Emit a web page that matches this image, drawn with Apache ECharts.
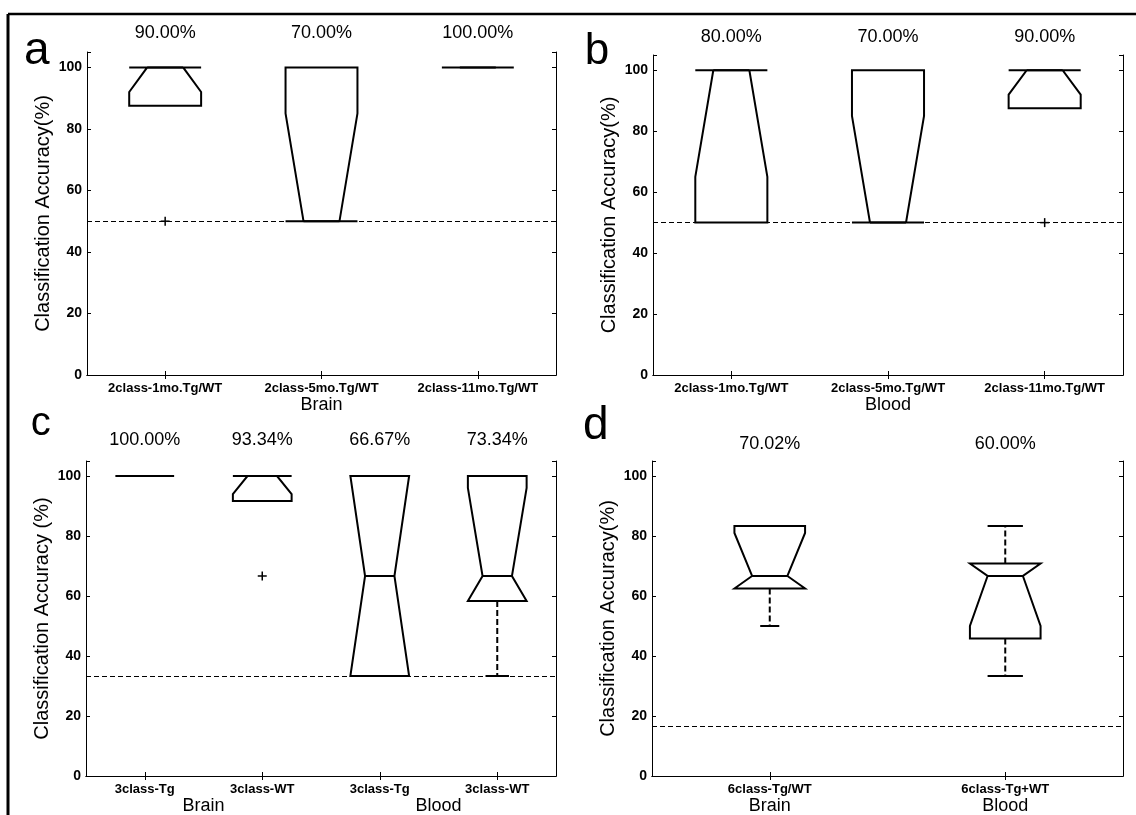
<!DOCTYPE html>
<html><head><meta charset="utf-8">
<script src="https://cdn.jsdelivr.net/npm/echarts@6/dist/echarts.min.js"></script>
<style>html,body{margin:0;padding:0;background:#fff}#c{width:1136px;height:815px}</style>
</head><body><div id="c"></div><script>
// ---------- DATA ----------
const yTickValues = [0, 20, 40, 60, 80, 100];
const yMax = 105;

// each box: [whiskerLow, q1, median, q3, whiskerHigh, notchLow, notchHigh]
const aCategories = ['2class-1mo.Tg/WT', '2class-5mo.Tg/WT', '2class-11mo.Tg/WT'];
const aAccuracy = ['90.00%', '70.00%', '100.00%'];
const aGroups = ['Brain'];
const aStats = [
  [87.5, 87.5, 100, 100, 100, 92, 100],
  [50, 50, 50, 100, 100, 50, 85],
  [100, 100, 100, 100, 100, 100, 100]
];
const aOutliers = [[0, 50]];
const aChance = 50;

const bCategories = ['2class-1mo.Tg/WT', '2class-5mo.Tg/WT', '2class-11mo.Tg/WT'];
const bAccuracy = ['80.00%', '70.00%', '90.00%'];
const bGroups = ['Blood'];
const bStats = [
  [50, 50, 100, 100, 100, 65, 100],
  [50, 50, 50, 100, 100, 50, 85],
  [87.5, 87.5, 100, 100, 100, 92, 100]
];
const bOutliers = [[2, 50]];
const bChance = 50;

const cCategories = ['3class-Tg', '3class-WT', '3class-Tg', '3class-WT'];
const cAccuracy = ['100.00%', '93.34%', '66.67%', '73.34%'];
const cGroups = ['Brain', 'Blood'];
const cStats = [
  [100, 100, 100, 100, 100, 100, 100],
  [91.67, 91.67, 100, 100, 100, 94, 100],
  [33.33, 33.33, 66.67, 100, 100, 33.33, 100],
  [33.33, 58.33, 66.67, 100, 100, 58.33, 96]
];
const cOutliers = [[1, 66.67]];
const cChance = 33.33;

const dCategories = ['6class-Tg/WT', '6class-Tg+WT'];
const dAccuracy = ['70.02%', '60.00%'];
const dGroups = ['Brain', 'Blood'];
const dStats = [
  [50, 62.5, 66.67, 83.33, 83.33, 62.5, 81],
  [33.33, 45.83, 66.67, 70.83, 83.33, 50, 70.83]
];
const dOutliers = [];
const dChance = 16.67;

// ---------- LAYOUT / STYLE ----------
const FONT = 'Liberation Sans, Arial, Helvetica, sans-serif';
const panels = [
  {letter: 'a', cats: aCategories, acc: aAccuracy, groups: aGroups, stats: aStats, outliers: aOutliers, chance: aChance,
   yName: 'Classification Accuracy(%)', grid: {left: 87, top: 52, width: 469, height: 323},
   boxFrac: 0.46, capFrac: [0.4, 0.4, 0.4], accMargin: 10, letterPos: [37, 70], letterSize: 46},
  {letter: 'b', cats: bCategories, acc: bAccuracy, groups: bGroups, stats: bStats, outliers: bOutliers, chance: bChance,
   yName: 'Classification Accuracy(%)', grid: {left: 653, top: 55, width: 470, height: 320},
   boxFrac: 0.46, capFrac: [0.4, 0.4, 0.4], accMargin: 9, letterPos: [597, 69], letterSize: 44},
  {letter: 'c', cats: cCategories, acc: cAccuracy, groups: cGroups, stats: cStats, outliers: cOutliers, chance: cChance,
   yName: 'Classification Accuracy (%)', grid: {left: 86, top: 461, width: 470, height: 315},
   boxFrac: 0.5, capFrac: [0.4, 0.4, 0.4, 0.4], accMargin: 12, letterPos: [42, 440], letterSize: 40},
  {letter: 'd', cats: dCategories, acc: dAccuracy, groups: dGroups, stats: dStats, outliers: dOutliers, chance: dChance,
   yName: 'Classification Accuracy(%)', grid: {left: 652, top: 461, width: 471, height: 315},
   boxFrac: 0.3, capFrac: [0.27, 0.5], accMargin: 8, letterPos: [596, 445], letterSize: 46}
];

const axisLineStyle = {show: true, lineStyle: {color: '#000', width: 1}};
const tickStyle = {show: true, inside: true, length: 4, lineStyle: {color: '#000', width: 1}};

function boxRenderer(p) {
  return function (params, api) {
    const idx = api.value(0);
    const lo = api.value(1), q1 = api.value(2), med = api.value(3), q3 = api.value(4),
          hi = api.value(5), nLo = api.value(6), nHi = api.value(7);
    const x = api.coord([idx, q1])[0];
    const band = api.size([1, 0])[0];
    const hw = band * p.boxFrac / 2, nw = hw / 2;
    const Y = v => api.coord([idx, v])[1];
    const cap = hw * p.capFrac[idx];
    const solid = {stroke: '#000', lineWidth: 2, fill: null};
    const dashed = {stroke: '#000', lineWidth: 2, lineDash: [6, 3], fill: null};
    const pts = [[x - hw, Y(q1)], [x - hw, Y(nLo)], [x - nw, Y(med)], [x - hw, Y(nHi)], [x - hw, Y(q3)],
                 [x + hw, Y(q3)], [x + hw, Y(nHi)], [x + nw, Y(med)], [x + hw, Y(nLo)], [x + hw, Y(q1)]];
    const children = [
      {type: 'polygon', shape: {points: pts}, style: {stroke: '#000', lineWidth: 2, fill: 'none', lineJoin: 'miter'}},
      {type: 'line', shape: {x1: x - nw, y1: Y(med), x2: x + nw, y2: Y(med)}, style: solid}
    ];
    if (hi > q3) {
      children.push({type: 'line', shape: {x1: x, y1: Y(q3), x2: x, y2: Y(hi)}, style: dashed});
      children.push({type: 'line', shape: {x1: x - cap, y1: Y(hi), x2: x + cap, y2: Y(hi)}, style: solid});
    }
    if (lo < q1) {
      children.push({type: 'line', shape: {x1: x, y1: Y(q1), x2: x, y2: Y(lo)}, style: dashed});
      children.push({type: 'line', shape: {x1: x - cap, y1: Y(lo), x2: x + cap, y2: Y(lo)}, style: solid});
    }
    return {type: 'group', children};
  };
}

function plusRenderer(params, api) {
  const c = api.coord([api.value(0), api.value(1)]);
  const s = 4.5;
  const st = {stroke: '#000', lineWidth: 1.5};
  return {type: 'group', children: [
    {type: 'line', shape: {x1: c[0] - s, y1: c[1], x2: c[0] + s, y2: c[1]}, style: st},
    {type: 'line', shape: {x1: c[0], y1: c[1] - s, x2: c[0], y2: c[1] + s}, style: st}
  ]};
}

const grids = [], xAxes = [], yAxes = [], series = [], graphics = [];
panels.forEach((p, i) => {
  grids.push(Object.assign({containLabel: false}, p.grid));
  // bottom category axis
  xAxes.push({gridIndex: i, type: 'category', position: 'bottom', data: p.cats, boundaryGap: true,
    axisLine: axisLineStyle, axisTick: Object.assign({alignWithLabel: true}, tickStyle),
    axisLabel: {interval: 0, color: '#000', fontFamily: FONT, fontWeight: 'bold', fontSize: 13, margin: 7},
    splitLine: {show: false}});
  // top axis: accuracy labels
  xAxes.push({gridIndex: i, type: 'category', position: 'top', data: p.acc, boundaryGap: true,
    axisLine: axisLineStyle, axisTick: Object.assign({alignWithLabel: true}, tickStyle),
    axisLabel: {interval: 0, color: '#000', fontFamily: FONT, fontSize: 18, margin: p.accMargin},
    splitLine: {show: false}});
  // group labels (Brain / Blood)
  xAxes.push({gridIndex: i, type: 'category', position: 'bottom', offset: 21, data: p.groups, boundaryGap: true,
    axisLine: {show: false}, axisTick: {show: false},
    axisLabel: {interval: 0, color: '#000', fontFamily: FONT, fontSize: 18, margin: 0},
    splitLine: {show: false}});
  yAxes.push({gridIndex: i, type: 'value', position: 'left', min: 0, max: yMax, interval: 20,
    name: p.yName, nameLocation: 'middle', nameGap: 34, nameRotate: 90,
    nameTextStyle: {color: '#000', fontFamily: FONT, fontSize: 20},
    axisLine: axisLineStyle, axisTick: tickStyle,
    axisLabel: {color: '#000', fontFamily: FONT, fontWeight: 'bold', fontSize: 14, margin: 5,
      formatter: v => yTickValues.indexOf(v) >= 0 ? String(v) : ''},
    splitLine: {show: false}});
  yAxes.push({gridIndex: i, type: 'value', position: 'right', min: 0, max: yMax, interval: 20,
    axisLine: axisLineStyle, axisTick: tickStyle, axisLabel: {show: false}, splitLine: {show: false}});

  series.push({
    type: 'custom', xAxisIndex: 3 * i, yAxisIndex: 2 * i, clip: false,
    renderItem: boxRenderer(p),
    encode: {x: 0, y: [1, 2, 3, 4, 5, 6, 7]},
    data: p.stats.map((s, j) => [j].concat(s)),
    markLine: {silent: true, symbol: 'none', label: {show: false},
      lineStyle: {color: '#000', width: 1, type: [5, 3]},
      data: [{yAxis: p.chance}]}
  });
  series.push({
    type: 'custom', xAxisIndex: 3 * i, yAxisIndex: 2 * i, clip: false,
    renderItem: plusRenderer, encode: {x: 0, y: 1},
    data: p.outliers
  });
  graphics.push({type: 'text', left: p.letterPos[0] - p.letterSize * 0.28, top: p.letterPos[1] - p.letterSize * 0.9,
    style: {text: p.letter, font: 'normal ' + p.letterSize + 'px ' + FONT, fill: '#000'}});
});
// figure frame (top and left border)
graphics.push({type: 'line', shape: {x1: 8, y1: 14, x2: 1136, y2: 14}, style: {stroke: '#000', lineWidth: 2.5}});
graphics.push({type: 'line', shape: {x1: 8, y1: 14, x2: 8, y2: 815}, style: {stroke: '#000', lineWidth: 3}});

const chart = echarts.init(document.getElementById('c'), null, {renderer: 'canvas'});
chart.setOption({
  backgroundColor: '#fff',
  animation: false,
  grid: grids, xAxis: xAxes, yAxis: yAxes, series: series, graphic: graphics
});
</script></body></html>
